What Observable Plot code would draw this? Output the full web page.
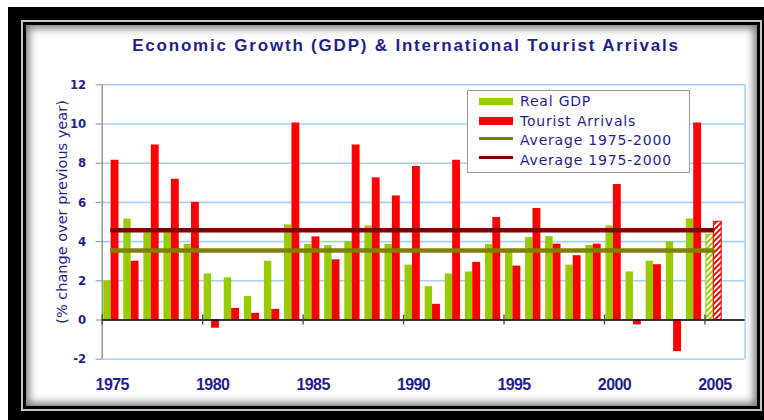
<!DOCTYPE html>
<html>
<head>
<meta charset="utf-8">
<script src="https://cdn.jsdelivr.net/npm/d3@7"></script>
<script src="https://cdn.jsdelivr.net/npm/@observablehq/plot@0.6"></script>
<style>
  html, body { margin: 0; padding: 0; background: #fff; }
  body { width: 764px; height: 420px; position: relative; overflow: hidden; font-family: "DejaVu Sans", sans-serif; }
  #outer { position: absolute; left: 8px; top: 7px; width: 756px; height: 413px; background: #000; }
  #inner { position: absolute; left: 21px; top: 20px; width: 741px; height: 391px; box-sizing: border-box;
           border: 2px solid #c4c4c4; background: #fff;
           box-shadow: inset 0 0 0 3px #000, inset 0 0 9px 6px rgba(0,0,0,0.55); }
  #title { position: absolute; top: 37px; left: 406px; transform: translateX(-50%); white-space: nowrap;
           font: bold 17px/17px "Liberation Sans", Arial, sans-serif; color: #1f1f8c; letter-spacing: 1.8px; }
  #chart { position: absolute; left: 0; top: 60px; }
  #legend { position: absolute; left: 467px; top: 90px; width: 223px; height: 83px; box-sizing: border-box;
            border: 1.5px solid #9a9a9a; background: #fff; }
  .lg-text { position: absolute; left: 520px; font: 14px/14px "DejaVu Sans", sans-serif; color: #1f1f8c;
             letter-spacing: 0.8px; white-space: nowrap; }
  .lg-sw { position: absolute; left: 479px; width: 34px; }
  g[aria-label="x-axis tick label"] text { font-family: "Liberation Sans", Arial, sans-serif; font-weight: bold; font-size: 16px; letter-spacing: -0.6px; }
  g[aria-label="y-axis tick label"] text { font-family: "Liberation Sans Narrow", "DejaVu Sans Condensed", sans-serif; font-weight: bold; font-size: 13px; }
</style>
</head>
<body>
<div id="outer"></div>
<div id="inner"></div>
<div id="title"></div>
<div id="chart"></div>
<div id="legendBox"></div>
<script>
// ---- data ----
const titleText = "Economic Growth (GDP) & International Tourist Arrivals";
const yLabel = "(% change over previous year)";
const years = [1975, 1976, 1977, 1978, 1979, 1980, 1981, 1982, 1983, 1984,
               1985, 1986, 1987, 1988, 1989, 1990, 1991, 1992, 1993, 1994,
               1995, 1996, 1997, 1998, 1999, 2000, 2001, 2002, 2003, 2004, 2005];
const realGDP = [2.0, 5.15, 4.45, 4.45, 3.85, 2.35, 2.15, 1.2, 3.0, 4.85,
                 3.85, 3.8, 4.0, 4.8, 3.85, 2.8, 1.7, 2.35, 2.45, 3.85,
                 3.5, 4.2, 4.25, 2.8, 3.8, 4.8, 2.45, 3.0, 4.0, 5.15, 4.35];
const touristArrivals = [8.15, 3.0, 8.93, 7.18, 6.0, -0.42, 0.59, 0.34, 0.54, 10.05,
                         4.24, 3.07, 8.93, 7.25, 6.33, 7.83, 0.8, 8.15, 2.94, 5.23,
                         2.75, 5.69, 3.87, 3.28, 3.87, 6.91, -0.25, 2.82, -1.61, 10.05, 5.01];
const estimateYears = [2005];          // drawn hatched
const avgGDP = 3.55;                   // Average 1975-2000 (GDP)
const avgTourist = 4.58;               // Average 1975-2000 (Tourist arrivals)
const avgSpan = [1975, 2005];
const yTicks = [-2, 0, 2, 4, 6, 8, 10, 12];
const xLabelYears = [1975, 1980, 1985, 1990, 1995, 2000, 2005];
const xDomain = [1975, 2007];
const legendLabels = ["Real GDP", "Tourist Arrivals", "Average 1975-2000", "Average 1975-2000"];

// ---- styles ----
const GREEN = "#99cc00", RED = "#ff0000", OLIVE = "#808000", MAROON = "#800000";
const NAVY = "#1f1f8c", GRID = "#a3d1ff";

const rows = years.map((y, i) => ({year: y, gdp: realGDP[i], tour: touristArrivals[i], est: estimateYears.includes(y)}));
const actual = rows.filter(d => !d.est);
const est = rows.filter(d => d.est);
const avgs = [
  {value: avgGDP, color: OLIVE, from: avgSpan[0], to: avgSpan[1]},
  {value: avgTourist, color: MAROON, from: avgSpan[0], to: avgSpan[1]}
];

document.getElementById("title").textContent = titleText;

const gdpBar = {x1: "year", x2: d => d.year + 1, y1: 0, y2: "gdp", insetLeft: 1.5, insetRight: 11.2};
const tourBar = {x1: "year", x2: d => d.year + 1, y1: 0, y2: "tour", insetLeft: 8.9, insetRight: 3.3};

const svg = Plot.plot({
  width: 764,
  height: 360,
  marginLeft: 101.7,
  marginRight: 19.4,
  marginTop: 24.3,
  marginBottom: 61.3,
  style: {background: "transparent", fontFamily: "DejaVu Sans, sans-serif", overflow: "visible"},
  x: {type: "linear", domain: xDomain},
  y: {domain: [-2, 12]},
  marks: [
    Plot.gridY(yTicks, {stroke: GRID, strokeOpacity: 1, strokeWidth: 1.6}),
    Plot.ruleX([xDomain[1]], {stroke: GRID, strokeWidth: 1.6}),
    Plot.rect(actual, {...gdpBar, fill: GREEN}),
    Plot.rect(actual, {...tourBar, fill: RED}),
    Plot.rect(est, {...gdpBar, fill: "url(#hatchG)", stroke: GREEN, strokeWidth: 1}),
    Plot.rect(est, {...tourBar, fill: "url(#hatchR)", stroke: RED, strokeWidth: 1}),
    Plot.ruleY(avgs, {y: "value", x1: d => d.from + 0.42, x2: d => d.to + 0.5, stroke: "color", strokeWidth: 4.5}),
    Plot.ruleX([xDomain[0]], {y1: -2, y2: 12, stroke: "#8a8a8a", strokeWidth: 1.3}),
    Plot.ruleY([0], {stroke: "#000", strokeWidth: 1.3}),
    Plot.ruleX(xLabelYears, {x: d => d, y1: -0.25, y2: 0.25, stroke: "#444", strokeWidth: 1.3}),
    Plot.axisY(yTicks, {tickSize: 6, tickPadding: 10, stroke: "#8a8a8a", fill: NAVY, label: null, tickFormat: d => String(d)}),
    Plot.axisX(xLabelYears, {tickSize: 0, tickPadding: 19, dx: 10, fill: NAVY, label: null, tickFormat: d => String(d)}),
    Plot.text([yLabel], {text: d => d, frameAnchor: "left", textAnchor: "middle", rotate: -90, dx: -40, dy: -10,
                         fill: NAVY, fontSize: 14.5, fontFamily: "DejaVu Sans, sans-serif"})
  ]
});

// hatch patterns for estimated bars
const defs = d3.select(svg).insert("defs", ":first-child");
[["hatchG", GREEN], ["hatchR", RED]].forEach(([id, c]) => {
  const p = defs.append("pattern").attr("id", id).attr("patternUnits", "userSpaceOnUse")
    .attr("width", 4).attr("height", 4).attr("patternTransform", "rotate(45)");
  p.append("rect").attr("width", 4).attr("height", 4).attr("fill", "#fff");
  p.append("rect").attr("width", 2).attr("height", 4).attr("fill", c);
});
document.getElementById("chart").appendChild(svg);

// legend
const legendBox = document.getElementById("legendBox");
legendBox.innerHTML = '<div id="legend"></div>';
const swatches = [
  {color: GREEN, top: 98.3, h: 7},
  {color: RED, top: 117, h: 8},
  {color: OLIVE, top: 136.5, h: 3},
  {color: MAROON, top: 155.5, h: 3}
];
legendLabels.forEach((lab, i) => {
  const sw = document.createElement("div");
  sw.className = "lg-sw";
  sw.style.top = swatches[i].top + "px";
  sw.style.height = swatches[i].h + "px";
  sw.style.background = swatches[i].color;
  legendBox.appendChild(sw);
  const t = document.createElement("div");
  t.className = "lg-text";
  t.style.top = (94 + 19.5 * i) + "px";
  t.textContent = lab;
  legendBox.appendChild(t);
});
</script>
</body>
</html>
